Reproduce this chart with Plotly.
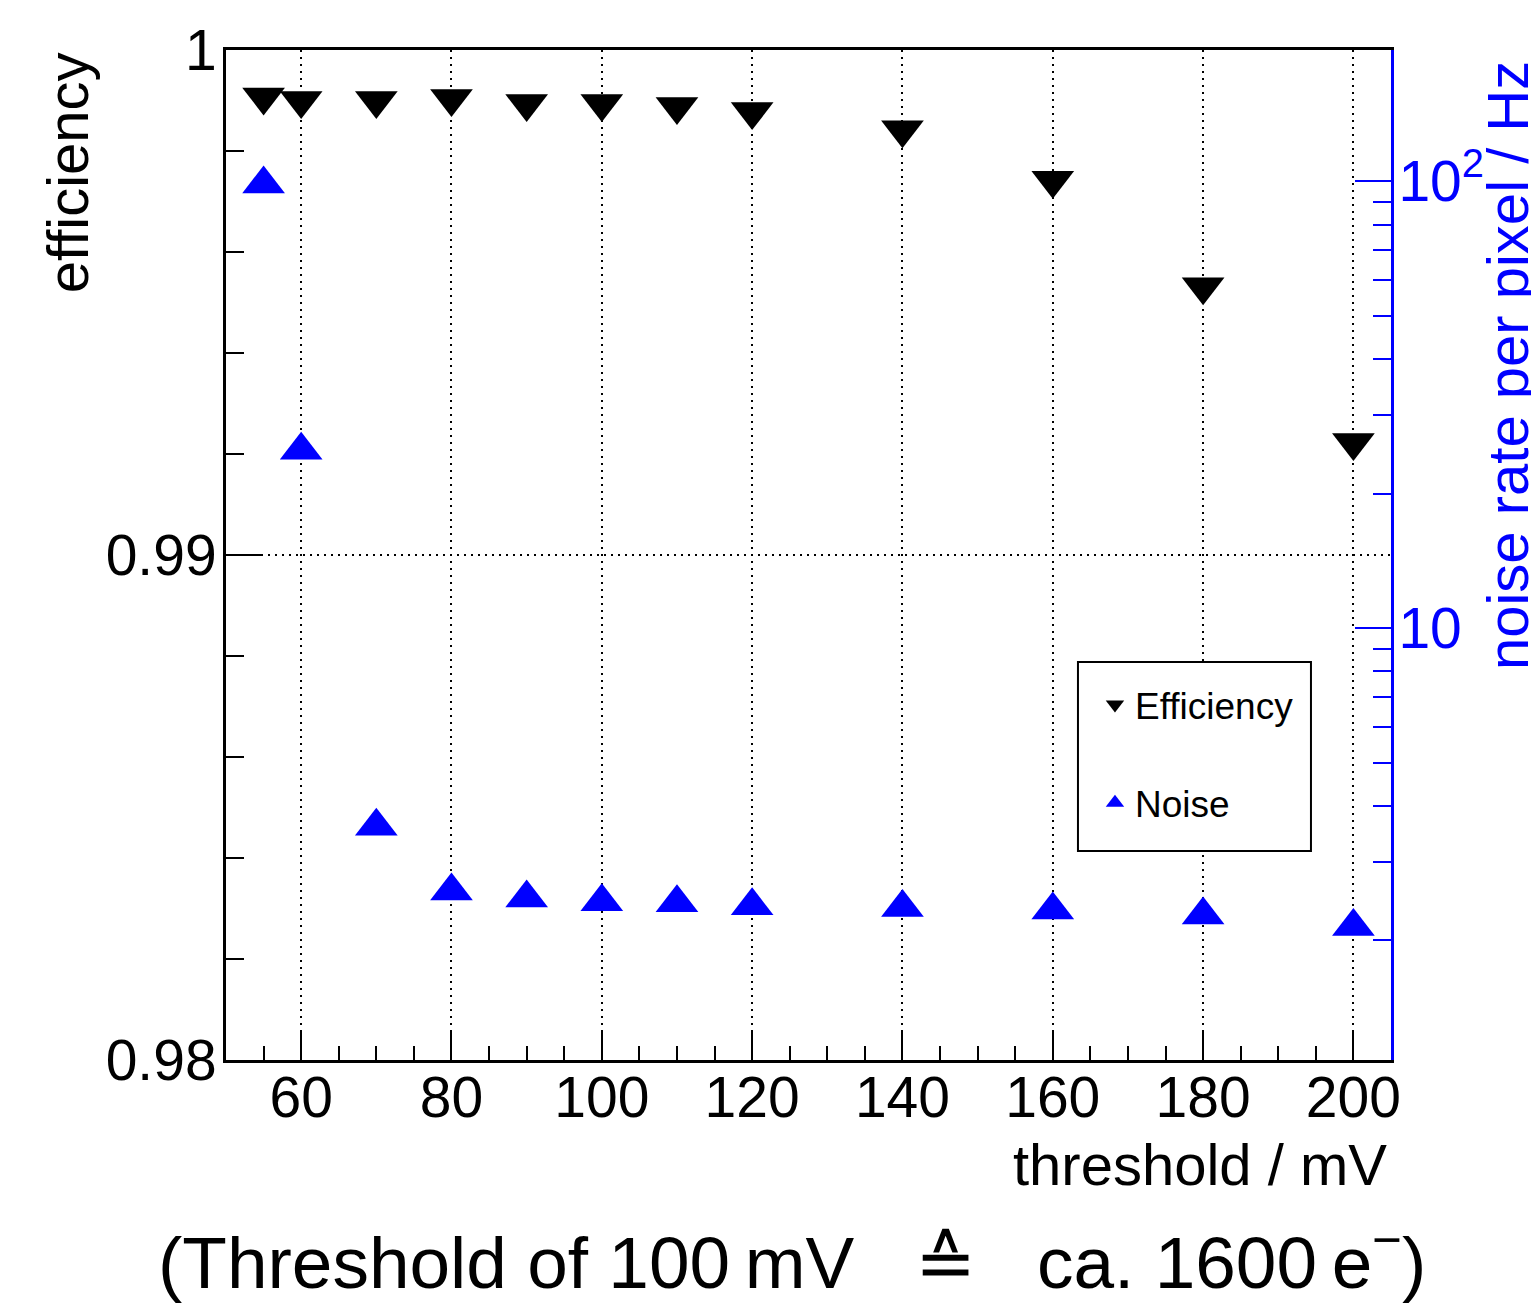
import plotly.graph_objects as go
import numpy as np

# ---- data ----
threshold = [55, 60, 70, 80, 90, 100, 110, 120, 140, 160, 180, 200]
efficiency = [0.99907, 0.99900, 0.99900, 0.99904, 0.99894, 0.99894,
              0.99888, 0.99878, 0.99842, 0.99742, 0.99531, 0.99223]
noise = [98.6, 25.0, 3.60, 2.58, 2.49, 2.44, 2.43, 2.39, 2.37, 2.34, 2.28, 2.15]

eff_ticks = [0.98, 0.99, 1.0]
eff_ticktext = ["0.98", "0.99", "1"]
noise_ticks = [10, 100]
noise_ticktext = ["10", "10<sup>2</sup>"]
noise_minor = [2, 3, 4, 5, 6, 7, 8, 9, 20, 30, 40, 50, 60, 70, 80, 90]
x_ticks = [60, 80, 100, 120, 140, 160, 180, 200]

FONT = "Liberation Sans, Arial, Helvetica, sans-serif"

fig = go.Figure()
fig.add_trace(go.Scatter(
    x=threshold, y=efficiency, mode="markers", name="Efficiency",
    marker=dict(symbol="triangle-down", size=37, color="black",
                line=dict(width=0)),
    legendgroup="a", yaxis="y"))
fig.add_trace(go.Scatter(
    x=threshold, y=noise, mode="markers", name="Noise",
    marker=dict(symbol="triangle-up", size=37, color="blue",
                line=dict(width=0)),
    legendgroup="b", yaxis="y2"))

fig.update_layout(
    width=1531, height=1304,
    margin=dict(l=218, r=148, t=42, b=252, autoexpand=False),
    paper_bgcolor="white", plot_bgcolor="white",
    font=dict(family=FONT, size=57, color="black"),
    showlegend=True,
    legend=dict(x=0.7459, y=0.3822, xanchor="left", yanchor="top",
                borderwidth=0, bgcolor="rgba(0,0,0,0)",
                font=dict(size=37, family=FONT), tracegroupgap=47,
                traceorder="grouped", itemsizing="trace"),
    shapes=[dict(type="rect", xref="paper", yref="paper",
                 x0=0.7313, x1=0.9313, y0=0.2069, y1=0.3941,
                 line=dict(color="black", width=2), fillcolor="white",
                 layer="above")],
    xaxis=dict(range=[50, 205], tickmode="array", tickvals=x_ticks,
               showline=True, linecolor="black", linewidth=3, mirror=True,
               ticks="inside", ticklen=28, tickwidth=2, tickcolor="black",
               minor=dict(ticks="inside", ticklen=14, tickwidth=2,
                          tickcolor="black", dtick=5, showgrid=False),
               showgrid=True, gridcolor="black", gridwidth=1.5,
               griddash="2px,5px", zeroline=False,
               ticklabelstandoff=-14,
               tickfont=dict(size=57, family=FONT)),
    yaxis=dict(range=[0.98, 1.0], tickmode="array", tickvals=eff_ticks,
               ticktext=eff_ticktext,
               showline=True, linecolor="black", linewidth=3,
               ticks="inside", ticklen=37, tickwidth=2, tickcolor="black",
               minor=dict(ticks="inside", ticklen=18, tickwidth=2,
                          tickcolor="black", dtick=0.002, showgrid=False),
               showgrid=True, gridcolor="black", gridwidth=1.5,
               griddash="2px,5px", zeroline=False,
               ticklabelstandoff=-5,
               tickfont=dict(size=57, family=FONT)),
    yaxis2=dict(type="log", overlaying="y", side="right",
                range=[np.log10(1.08), np.log10(196.7)],
                tickmode="array", tickvals=noise_ticks,
                ticktext=noise_ticktext,
                showline=True, linecolor="blue", linewidth=3,
                ticks="inside", ticklen=36, tickwidth=2, tickcolor="blue",
                minor=dict(ticks="inside", ticklen=18, tickwidth=2,
                           tickcolor="blue", tickvals=noise_minor,
                           showgrid=False),
                showgrid=False, zeroline=False,
                ticklabelstandoff=-7,
                tickfont=dict(size=57, family=FONT, color="blue")),
    annotations=[
        dict(text="efficiency", xref="paper", yref="paper",
             x=-0.1365, y=0.879, xanchor="center", yanchor="middle",
             textangle=-90, showarrow=False,
             font=dict(size=58, family=FONT, color="black")),
        dict(text="noise rate per pixel / Hz", xref="paper", yref="paper",
             x=1.0995, y=0.688, xanchor="center", yanchor="middle",
             textangle=-90, showarrow=False,
             font=dict(size=58, family=FONT, color="blue")),
        dict(text="threshold / mV", xref="paper", yref="paper",
             x=0.9987, y=-0.103, xanchor="right", yanchor="middle",
             showarrow=False, font=dict(size=58, family=FONT, color="black")),
        dict(text="(Threshold of 100\u2009mV\u00a0\u00a0\u00a0\u2259\u00a0\u00a0\u00a0ca. 1600\u2009e<sup>\u2212</sup>)",
             xref="paper", yref="paper",
             x=0.4858, y=-0.195, xanchor="center", yanchor="middle",
             showarrow=False, font=dict(size=73, family=FONT, color="black")),
    ],
)

fig.write_html("out.html")
